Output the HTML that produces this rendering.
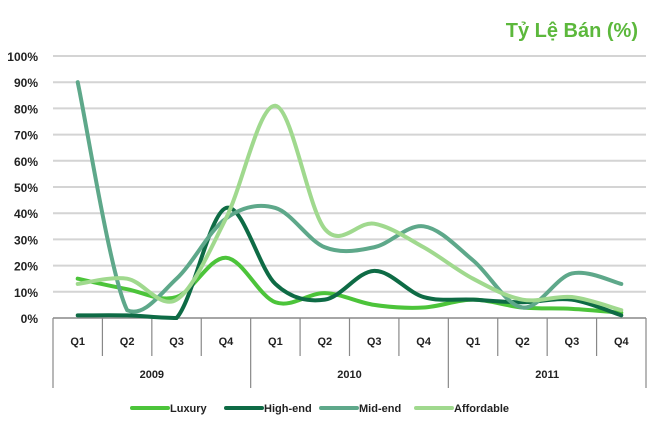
<!DOCTYPE html>
<html><head><meta charset="utf-8"><style>
body{margin:0;background:#fff;width:650px;height:430px;overflow:hidden}
svg{display:block}
text{font-family:"Liberation Sans",sans-serif}
</style></head><body>
<svg id="s" width="650" height="430" xmlns="http://www.w3.org/2000/svg">
<text x="638" y="37" text-anchor="end" font-size="20" font-weight="bold" fill="#5cb83c">Tỷ Lệ Bán (%)</text>
<g id="grid"></g>
<g id="lines" fill="none" stroke-width="4" stroke-linecap="round"></g>
</svg>
<script>
const s=document.getElementById('s'),g=document.getElementById('grid'),L=document.getElementById('lines');
const NS='http://www.w3.org/2000/svg';
function el(p,t,a,txt){const e=document.createElementNS(NS,t);for(const k in a)e.setAttribute(k,a[k]);if(txt!=null)e.textContent=txt;p.appendChild(e);return e;}
const x0=53,x1=646,y0=318,h=26.2,cw=(x1-x0)/12;
for(let i=0;i<=10;i++){const y=y0-i*h;
 if(i>0)el(g,'line',{x1:x0,x2:x1,y1:y,y2:y,stroke:'#d4d4d4','stroke-width':2});
 el(g,'text',{x:38,y:y+5,'text-anchor':'end','font-size':12,'font-weight':'bold',fill:'#222'},i*10+'%');}
el(g,'line',{x1:x0,x2:x1,y1:y0,y2:y0,stroke:'#888','stroke-width':1.5});
for(let i=0;i<=12;i++){const x=x0+i*cw;const big=i%4==0;
 el(g,'line',{x1:x,x2:x,y1:y0,y2:big?388:356,stroke:'#888','stroke-width':1.2});
 if(i<12)el(g,'text',{x:x+cw/2,y:345,'text-anchor':'middle','font-size':11,'font-weight':'bold',fill:'#222'},'Q'+(i%4+1));}
['2009','2010','2011'].forEach((t,j)=>el(g,'text',{x:x0+cw*(4*j+2),y:378,'text-anchor':'middle','font-size':11,'font-weight':'bold',fill:'#222'},t));
const series=[
['Luxury','#4cc43a',[15,11,8,23,6,9.5,5,4,7,4,3.5,2]],
['High-end','#0e6b45',[1,1,0,42,13,7,18,8,7,6,7,1]],
['Mid-end','#5ea88a',[90,3,15,38,42,27,27,35,22,4,17,13]],
['Affordable','#a0d98e',[13,15,7,38,81,34,36,27,15,7,8,3]]];
const cl=y=>Math.min(y,y0);
series.forEach(([n,c,d])=>{
 const p=d.map((v,i)=>[x0+cw*(i+0.5),y0-v*h/10]);
 let s='M'+p[0];
 for(let i=0;i<p.length-1;i++){const a=p[i-1]||p[i],b=p[i],c2=p[i+1],e=p[i+2]||c2;
  s+=` C${b[0]+(c2[0]-a[0])/6},${cl(b[1]+(c2[1]-a[1])/6)} ${c2[0]-(e[0]-b[0])/6},${cl(c2[1]-(e[1]-b[1])/6)} ${c2[0]},${c2[1]}`;}
 el(L,'path',{d:s,stroke:c});});
const lx=[132,226,321,416];
series.forEach(([n,c],i)=>{el(g,'line',{x1:lx[i],x2:lx[i]+36,y1:408,y2:408,stroke:c,'stroke-width':4,'stroke-linecap':'round'});
 el(g,'text',{x:lx[i]+38,y:412,'font-size':11,'font-weight':'bold',fill:'#222'},n);});
</script>
</body></html>
